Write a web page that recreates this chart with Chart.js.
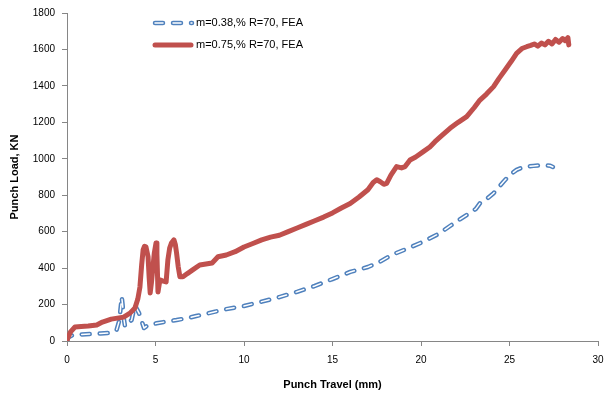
<!DOCTYPE html>
<html>
<head>
<meta charset="utf-8">
<script src="https://cdn.jsdelivr.net/npm/chart.js@4/dist/chart.umd.min.js"></script>
<style>
  html, body { margin: 0; padding: 0; background: #fff; }
  #wrap { width: 605px; height: 394px; }
</style>
</head>
<body>
<div id="wrap"><canvas id="mycanvas" width="605" height="394"></canvas></div>
<script>
// series labels
var seriesNames = ["m=0.38,% R=70, FEA", "m=0.75,% R=70, FEA"];

// m=0.38 (blue, dashed)
var blueTravel = [0, 0.06, 0.34, 0.8, 1.3, 1.9, 2.43, 2.8, 2.95, 3.0, 3.05, 3.09, 3.14, 3.2, 3.28, 3.45, 3.65, 3.75, 3.84, 3.95, 4.07, 4.2, 4.35, 4.46, 4.58, 5.06, 5.6, 6.19, 6.8, 7.3, 7.8, 8.36, 9, 10, 11, 12, 13, 14, 15, 16, 17, 17.68, 18.34, 19.28, 20.13, 20.98, 21.73, 22.58, 23.1, 23.33, 23.6, 24.1, 24.66, 25.0, 25.4, 25.8, 26.35, 26.8, 27.3, 27.45];
var blueLoad = [0, 20, 33, 36, 38, 41, 44, 60, 110, 153, 200, 243, 200, 130, 79, 98, 115, 160, 198, 175, 153, 115, 71, 79, 88, 97, 106, 115, 126, 137, 148, 161, 175, 192, 216, 241, 270, 302, 340, 379, 406, 435, 472, 509, 545, 587, 637, 692, 725, 756, 770, 811, 874, 910, 939, 955, 961, 965, 962, 955];

// m=0.75 (red, solid)
var redTravel = [0, 0.06, 0.2, 0.45, 0.8, 1.2, 1.68, 2.0, 2.5, 3.2, 3.56, 3.84, 4.0, 4.12, 4.22, 4.3, 4.38, 4.46, 4.52, 4.58, 4.64, 4.7, 4.77, 4.84, 4.93, 5.03, 5.08, 5.14, 5.25, 5.4, 5.6, 5.7, 5.8, 5.9, 6.04, 6.12, 6.19, 6.28, 6.38, 6.55, 6.8, 7.1, 7.5, 8.2, 8.53, 9.0, 9.5, 10, 10.5, 11, 11.5, 12, 12.5, 13, 13.5, 14, 14.5, 15, 15.5, 16, 16.5, 17, 17.3, 17.5, 17.7, 17.9, 18.06, 18.3, 18.62, 18.9, 19.1, 19.38, 19.7, 20.13, 20.5, 20.79, 21.2, 21.64, 22.1, 22.58, 23.0, 23.33, 23.7, 24.1, 24.4, 24.75, 25.1, 25.4, 25.7, 25.97, 26.2, 26.4, 26.6, 26.8, 27.0, 27.2, 27.4, 27.6, 27.8, 28.0, 28.15, 28.3, 28.35];
var redLoad = [0, 20, 50, 77, 80, 82, 88, 104, 120, 131, 153, 181, 230, 296, 420, 500, 520, 517, 490, 462, 350, 263, 320, 390, 480, 538, 480, 269, 335, 330, 324, 445, 510, 538, 555, 530, 483, 410, 352, 352, 370, 390, 417, 428, 462, 472, 490, 516, 535, 555, 570, 580, 600, 620, 640, 660, 680, 703, 730, 755, 790, 830, 870, 885, 874, 860, 865, 910, 957, 950, 957, 993, 1010, 1039, 1065, 1094, 1130, 1167, 1200, 1231, 1280, 1322, 1355, 1396, 1440, 1487, 1535, 1579, 1605, 1615, 1622, 1630, 1618, 1635, 1625, 1645, 1630, 1655, 1640, 1660, 1648, 1665, 1625];

var xTitle = "Punch Travel (mm)";
var yTitle = "Punch Load, KN";

var BLUE = "#4F81BD", RED = "#C0504D", AXIS = "#868686";
var DASH = [8, 10];

function pts(xs, ys) {
  var out = [];
  for (var i = 0; i < xs.length; i++) out.push({x: xs[i], y: ys[i]});
  return out;
}

// legend drawn inside the plot, stacked
var insideLegend = {
  id: "insideLegend",
  afterDraw: function(chart) {
    var ctx = chart.ctx;
    ctx.save();
    ctx.lineCap = "round";
    // blue sample
    ctx.setLineDash(DASH);
    ctx.strokeStyle = BLUE; ctx.lineWidth = 4.5;
    ctx.beginPath(); ctx.moveTo(155, 23); ctx.lineTo(192, 23); ctx.stroke();
    ctx.strokeStyle = "#fff"; ctx.lineWidth = 1.5;
    ctx.beginPath(); ctx.moveTo(155, 23); ctx.lineTo(192, 23); ctx.stroke();
    // red sample
    ctx.setLineDash([]);
    ctx.strokeStyle = RED; ctx.lineWidth = 5;
    ctx.beginPath(); ctx.moveTo(155, 45); ctx.lineTo(191, 45); ctx.stroke();
    ctx.fillStyle = "#000";
    ctx.font = "11px 'Liberation Sans'";
    ctx.textBaseline = "middle";
    ctx.fillText(seriesNames[0], 196, 23);
    ctx.fillText(seriesNames[1], 196, 45);
    ctx.restore();
  }
};

function plain(v) { return String(v); }

var ctx = document.getElementById("mycanvas");
var chart = new Chart(ctx, {
  type: "scatter",
  data: {
    datasets: [
      {
        label: seriesNames[1],
        data: pts(redTravel, redLoad),
        showLine: true, borderColor: RED, backgroundColor: RED,
        borderWidth: 5, pointRadius: 0, tension: 0,
        borderJoinStyle: "round", borderCapStyle: "round", order: 1
      },
      {
        label: seriesNames[0] + " inner",
        data: pts(blueTravel, blueLoad),
        showLine: true, borderColor: "#fff", borderWidth: 1.5,
        borderDash: DASH, borderCapStyle: "round", borderJoinStyle: "round",
        pointRadius: 0, tension: 0, order: 2
      },
      {
        label: seriesNames[0],
        data: pts(blueTravel, blueLoad),
        showLine: true, borderColor: BLUE, backgroundColor: BLUE, borderWidth: 4.5,
        borderDash: DASH, borderCapStyle: "round", borderJoinStyle: "round",
        pointRadius: 0, tension: 0, order: 3
      }
    ]
  },
  options: {
    responsive: false,
    animation: false,
    layout: { padding: { top: 13, right: 0, bottom: 2, left: 0 } },
    plugins: { legend: { display: false }, tooltip: { enabled: false } },
    scales: {
      x: {
        type: "linear", min: 0, max: 30,
        ticks: { stepSize: 5, padding: 8, color: "#000", callback: plain,
                 font: { family: "'Liberation Sans'", size: 10 } },
        grid: { drawOnChartArea: false, drawTicks: true, tickLength: 5, color: AXIS },
        border: { color: AXIS, width: 1 },
        title: { display: true, text: xTitle, color: "#000", padding: { top: 4, bottom: 0 },
                 font: { family: "'Liberation Sans'", size: 11, weight: "bold" } },
        afterFit: function(s) { s.height = 51; s.paddingRight = 7; s.paddingLeft = 0; }
      },
      y: {
        min: 0, max: 1800,
        ticks: { stepSize: 200, padding: 7, color: "#000", callback: plain,
                 font: { family: "'Liberation Sans'", size: 10 } },
        grid: { drawOnChartArea: false, drawTicks: true, tickLength: 5, color: AXIS },
        border: { color: AXIS, width: 1 },
        title: { display: true, text: yTitle, color: "#000", padding: { top: 8, bottom: 0 },
                 font: { family: "'Liberation Sans'", size: 11, weight: "bold" } },
        afterFit: function(s) { s.width = 67; }
      }
    }
  },
  plugins: [insideLegend]
});
</script>
</body>
</html>
